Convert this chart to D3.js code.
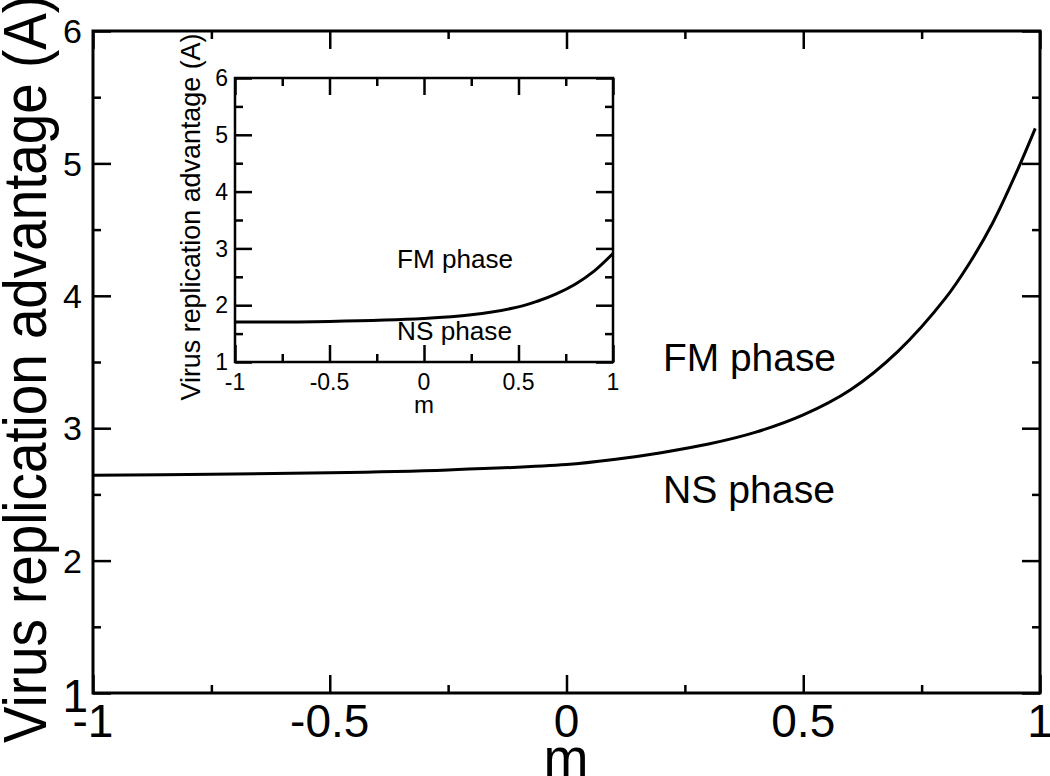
<!DOCTYPE html>
<html>
<head>
<meta charset="utf-8">
<script src="https://cdn.jsdelivr.net/npm/d3@7"></script>
<style>
  body { margin: 0; background: #fff; }
  svg { display: block; font-family: "Liberation Sans", Arial, Helvetica, sans-serif; }
  .axis path { display: none; }
  .axis line { stroke: #000; stroke-width: 2.5; }
  .axis text { fill: #000; }
</style>
</head>
<body>
<div id="chart"></div>
<script>
// main curve
var mainM = [-1, -0.75, -0.5, -0.25, 0, 0.1, 0.2, 0.3, 0.4, 0.5, 0.6, 0.7, 0.8, 0.85, 0.9, 0.95, 0.99];
var mainA = [2.645, 2.652, 2.663, 2.685, 2.725, 2.763, 2.815, 2.88, 2.97, 3.1, 3.29, 3.58, 3.98, 4.24, 4.55, 4.93, 5.265];

// inset curve
var insetM = [-1, -0.5, 0, 0.25, 0.5, 0.6, 0.7, 0.8, 0.9, 1];
var insetA = [1.705, 1.715, 1.765, 1.83, 1.97, 2.07, 2.2, 2.37, 2.6, 2.91];

// ticks
var xTicks = [-1, -0.5, 0, 0.5, 1];
var xMinor = [-0.75, -0.25, 0.25, 0.75];
var yTicks = [1, 2, 3, 4, 5, 6];
var yMinor = [1.5, 2.5, 3.5, 4.5, 5.5];

var svgWidth = 1050;
var svgHeight = 776;

var svg = d3.select("#chart")
  .append("svg")
  .attr("width", svgWidth)
  .attr("height", svgHeight);

// draws a boxed panel with ticks on all four sides
function drawPanel(opts) {
  var x = d3.scaleLinear().domain([-1, 1]).range([opts.left, opts.right]);
  var y = d3.scaleLinear().domain([1, 6]).range([opts.bottom, opts.top]);
  var g = svg.append("g");

  var sides = [
    { axis: d3.axisBottom(x), pos: `translate(0,${opts.bottom})`, ticks: xTicks, minor: xMinor },
    { axis: d3.axisTop(x), pos: `translate(0,${opts.top})`, ticks: xTicks, minor: xMinor },
    { axis: d3.axisLeft(y), pos: `translate(${opts.left},0)`, ticks: yTicks, minor: yMinor },
    { axis: d3.axisRight(y), pos: `translate(${opts.right},0)`, ticks: yTicks, minor: yMinor }
  ];
  sides.forEach(function(s) {
    // ticks point inwards, labels are drawn separately
    g.append("g").attr("class", "axis").attr("transform", s.pos)
      .call(s.axis.tickValues(s.ticks).tickSize(-opts.major).tickFormat(""));
    g.append("g").attr("class", "axis").attr("transform", s.pos)
      .call(s.axis.tickValues(s.minor).tickSize(-opts.minorLen).tickFormat(""));
  });

  // frame
  g.append("rect")
    .attr("x", opts.left).attr("y", opts.top)
    .attr("width", opts.right - opts.left).attr("height", opts.bottom - opts.top)
    .attr("fill", "none").attr("stroke", "#000").attr("stroke-width", opts.frame);

  // tick labels
  g.selectAll(".xlab").data(xTicks).enter().append("text")
    .attr("class", "xlab")
    .attr("x", d => x(d)).attr("y", opts.xLabY)
    .attr("text-anchor", "middle").attr("font-size", opts.xFont)
    .text(d => d);
  g.selectAll(".ylab").data(yTicks).enter().append("text")
    .attr("class", "ylab")
    .attr("x", opts.yLabX).attr("y", d => y(d))
    .attr("dy", "0.36em")
    .attr("text-anchor", "end").attr("font-size", opts.yFont)
    .text(d => d);

  var line = d3.line()
    .x((d, i) => x(opts.m[i]))
    .y(d => y(d))
    .curve(d3.curveCatmullRom.alpha(0.5));
  g.append("path").datum(opts.a)
    .attr("d", line)
    .attr("fill", "none").attr("stroke", "#000").attr("stroke-width", opts.lineW);

  return { g: g, x: x, y: y };
}

var main = drawPanel({
  left: 93, right: 1040, top: 31, bottom: 693,
  major: 18, minorLen: 8, frame: 3, lineW: 3,
  xLabY: 737, xFont: 46, yLabX: 82, yFont: 34,
  m: mainM, a: mainA
});

// bottom-left "1" is drawn bigger in the original
main.g.selectAll(".ylab").filter(d => d === 1)
  .attr("font-size", 46).attr("x", 88).attr("y", 712).attr("dy", null);

main.g.append("text").attr("x", 566).attr("y", 776)
  .attr("text-anchor", "middle").attr("font-size", 54).text("m");
main.g.append("text")
  .attr("transform", "translate(46,369) rotate(-90)")
  .attr("text-anchor", "middle").attr("font-size", 62)
  .attr("textLength", 748).attr("lengthAdjust", "spacingAndGlyphs")
  .text("Virus replication advantage (A)");
main.g.append("text").attr("x", 663).attr("y", 371).attr("font-size", 38)
  .attr("textLength", 173).attr("lengthAdjust", "spacingAndGlyphs").text("FM phase");
main.g.append("text").attr("x", 663).attr("y", 503).attr("font-size", 38)
  .attr("textLength", 172).attr("lengthAdjust", "spacingAndGlyphs").text("NS phase");

// inset
var inset = drawPanel({
  left: 235, right: 613, top: 78, bottom: 362,
  major: 17, minorLen: 8, frame: 2.5, lineW: 3,
  xLabY: 390, xFont: 23, yLabX: 228, yFont: 23,
  m: insetM, a: insetA
});
inset.g.append("text").attr("x", 424).attr("y", 413)
  .attr("text-anchor", "middle").attr("font-size", 24).text("m");
inset.g.append("text")
  .attr("transform", "translate(200,217) rotate(-90)")
  .attr("text-anchor", "middle").attr("font-size", 28)
  .attr("textLength", 367).attr("lengthAdjust", "spacingAndGlyphs")
  .text("Virus replication advantage (A)");
inset.g.append("text").attr("x", 397).attr("y", 268).attr("font-size", 25)
  .attr("textLength", 116).attr("lengthAdjust", "spacingAndGlyphs").text("FM phase");
inset.g.append("text").attr("x", 397).attr("y", 340).attr("font-size", 25)
  .attr("textLength", 115).attr("lengthAdjust", "spacingAndGlyphs").text("NS phase");
</script>
</body>
</html>
